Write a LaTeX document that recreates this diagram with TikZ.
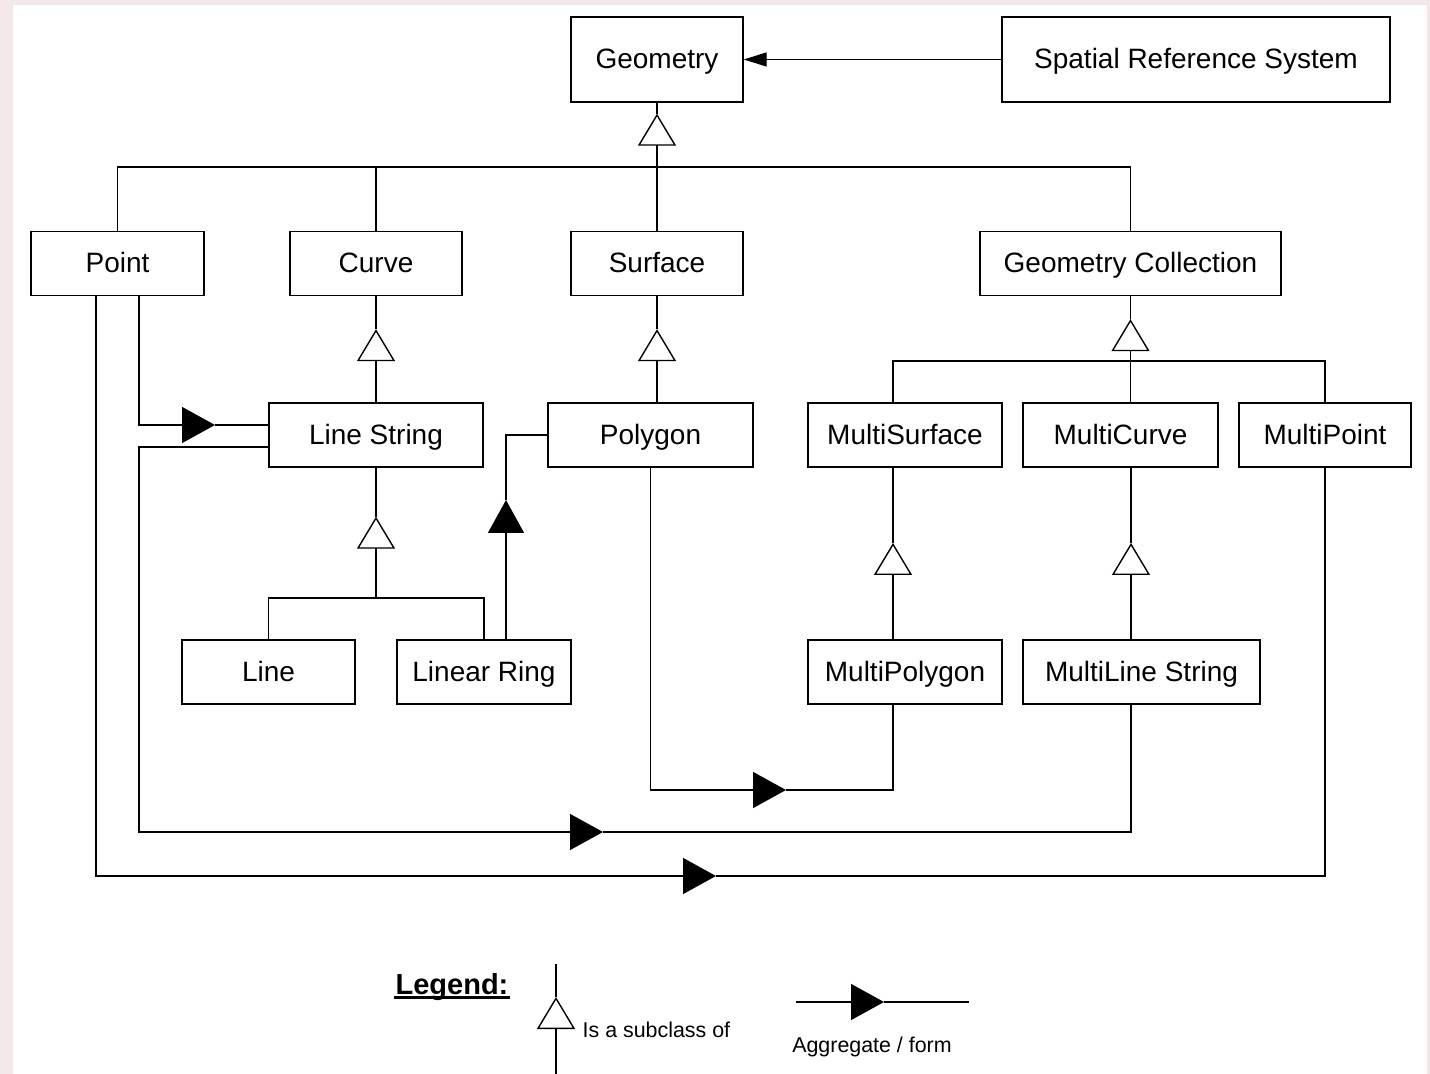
\documentclass[tikz,border=0pt]{standalone}
\usepackage{fontspec}
\setmainfont{Liberation Sans}
\usetikzlibrary{arrows.meta,positioning}
\definecolor{edgebg}{HTML}{F2E8EA}
\tikzset{
  cls/.style={draw, inner sep=0pt, minimum height=32pt, text height=11pt, text depth=1.5pt, font=\fontsize{14}{17}\selectfont},
  subof/.style={-{Triangle[open,length=16pt,width=19pt]}},
  agg/.style={-{Triangle[length=16.5pt,width=18pt]}},
  srsarrow/.style={-{Triangle[length=11.5pt,width=7pt]}},
}
\begin{document}
\begin{tikzpicture}[x=0.5pt,y=-0.5pt,line width=0.7pt]
    \useasboundingbox (0,0) rectangle (1430,1074);
    \fill[edgebg] (0,0) rectangle (1430,1074);
    \fill[white] (13,5) rectangle (1427,1074);
    % classes
    \node[cls,minimum width=86pt,minimum height=42.5pt] (geom) at (657,59.5) {Geometry};
    \node[cls,minimum width=194pt,minimum height=42.5pt] (srs) at (1196,59.5) {Spatial Reference System};
    \node[cls,minimum width=86.5pt] (point) at (117.5,263.5) {Point};
    \node[cls,minimum width=86pt] (curve) at (376,263.5) {Curve};
    \node[cls,minimum width=86pt] (surf) at (657,263.5) {Surface};
    \node[cls,minimum width=150.5pt] (gcoll) at (1130.5,263.5) {Geometry Collection};
    \node[cls,minimum width=107pt] (lstr) at (376,435) {Line String};
    \node[cls,minimum width=102.5pt] (poly) at (650.5,435) {Polygon};
    \node[cls,minimum width=97pt] (msurf) at (905,435) {MultiSurface};
    \node[cls,minimum width=97.5pt] (mcurve) at (1120.5,435) {MultiCurve};
    \node[cls,minimum width=86pt] (mpoint) at (1325,435) {MultiPoint};
    \node[cls,minimum width=86.5pt] (line) at (268.5,672) {Line};
    \node[cls,minimum width=87pt] (lring) at (484,672) {Linear Ring};
    \node[cls,minimum width=97pt] (mpoly) at (905,672) {MultiPolygon};
    \node[cls,minimum width=118.5pt] (mline) at (1141.5,672) {MultiLine String};
    % subclass lines
    \coordinate[below=5.5pt of geom.south] (t1);
    \coordinate (bus1) at (657,167);
    \draw (point.north) |- (bus1) -| (gcoll.north);
    \draw (curve.north) -- (curve.north |- bus1);
    \draw (geom.south) -- (t1);
    \draw[subof] (surf.north) -- (t1);
    \coordinate[below=16.5pt of curve.south] (t2);
    \draw (curve.south) -- (t2);
    \draw[subof] (lstr.north) -- (t2);
    \coordinate[below=16.5pt of surf.south] (t3);
    \draw (surf.south) -- (t3);
    \draw[subof] (surf.south |- poly.north) -- (t3);
    \coordinate[below=11.5pt of gcoll.south] (t4);
    \coordinate (bus2) at (1131,361);
    \draw ([xshift=-6pt]msurf.north) |- (bus2) -| (mpoint.north);
    \draw (gcoll.south) -- (t4);
    \draw[subof] (mcurve.north -| gcoll.south) -- (t4);
    \coordinate[below=24.5pt of lstr.south] (t5);
    \coordinate (bus3) at (376,598);
    \draw (line.north) |- (bus3) -| (lring.north);
    \draw (lstr.south) -- (t5);
    \draw[subof] (bus3) -- (t5);
    \coordinate (t6) at (893,543);
    \draw ([xshift=-6pt]msurf.south) -- (t6);
    \draw[subof] ([xshift=-6pt]mpoly.north) -- (t6);
    \coordinate (t7) at (1131,543);
    \draw (mcurve.south -| t7) -- (t7);
    \draw[subof] (mline.north -| t7) -- (t7);
    % aggregates
    \draw[srsarrow] (srs) -- (geom);
    \coordinate (a1) at (506,500);
    \draw[agg] ([xshift=11pt]lring.north) -- (a1);
    \draw (a1) |- (poly.west);
    \coordinate (a2) at (786,790);
    \draw[agg] (poly.south) |- (a2);
    \draw (a2) -| ([xshift=-6pt]mpoly.south);
    \coordinate (c3) at (139,832);
    \coordinate (a3) at (603,832);
    \draw[agg] ([yshift=-6pt]lstr.west) -| (c3) -- (a3);
    \draw (a3) -| (mline.south -| t7);
    \coordinate (a4) at (215,425);
    \draw[agg] ([xshift=10.75pt]point.south) |- (a4);
    \draw (a4) -- (lstr.west |- a4);
    \coordinate (a5) at (716,876);
    \draw[agg] ([xshift=-10.75pt]point.south) |- (a5);
    \draw (a5) -| (mpoint.south);
    % legend
    \node[font=\fontsize{14.5}{17}\selectfont\bfseries] (leg) at (452,987) {Legend:};
    \draw[line width=1.3pt] ([yshift=-1.5pt]leg.base west) ++(3pt,0) -- ([yshift=-1.5pt,xshift=-3pt]leg.base east);
    \coordinate (l1) at (556,964);
    \coordinate (l2) at (556,997);
    \coordinate (l3) at (556,1074);
    \draw (l1) -- (l2);
    \draw[subof] (l3) -- (l2);
    \node[anchor=west,inner sep=0pt,font=\fontsize{10.7}{13}\selectfont] (legsub) at (582,1030) {Is a subclass of};
    \coordinate (g1) at (796,1002);
    \coordinate (g2) at (884,1002);
    \coordinate (g3) at (969,1002);
    \draw[agg] (g1) -- (g2);
    \draw (g2) -- (g3);
    \node[font=\fontsize{10.7}{13}\selectfont] (legagg) at (872,1047) {Aggregate / form};
\end{tikzpicture}
\end{document}
